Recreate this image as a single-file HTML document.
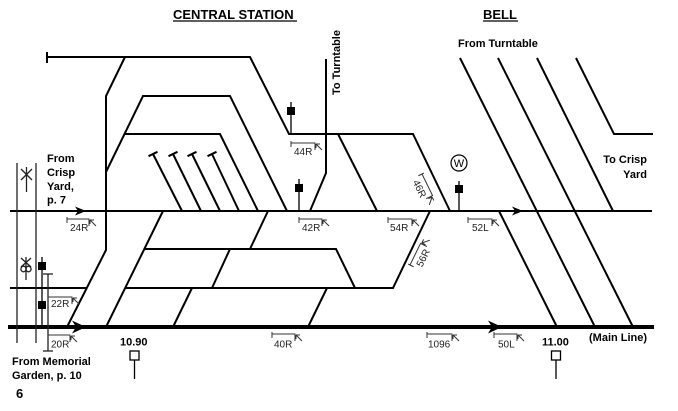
<!DOCTYPE html>
<html>
<head>
<meta charset="utf-8">
<style>
  html, body { margin:0; padding:0; background:#fff; }
  svg { display:block; }
  text { font-family: "Liberation Sans", Arial, sans-serif; fill:#000; }
  .b { font-weight:bold; font-size:11px; }
  .s { font-size:10px; fill:#222; }
</style>
</head>
<body>
<svg width="678" height="411" viewBox="0 0 678 411" xmlns="http://www.w3.org/2000/svg">
  <rect width="678" height="411" fill="#fff"/>

  <!-- Titles -->
  <text x="173" y="19" font-size="13" font-weight="bold">CENTRAL STATION</text>
  <line x1="173" y1="21" x2="297" y2="21" stroke="#000" stroke-width="1.2"/>
  <text x="483" y="19" font-size="13" font-weight="bold">BELL</text>
  <line x1="483" y1="21" x2="518" y2="21" stroke="#000" stroke-width="1.2"/>

  <text class="b" x="458" y="47">From Turntable</text>
  <text class="b" transform="translate(340,95) rotate(-90)">To Turntable</text>
  <text class="b" x="647" y="163" text-anchor="end">To Crisp</text>
  <text class="b" x="647" y="178" text-anchor="end">Yard</text>

  <text class="b" x="47" y="162">From</text>
  <text class="b" x="47" y="176">Crisp</text>
  <text class="b" x="47" y="190">Yard,</text>
  <text class="b" x="47" y="203.5">p. 7</text>

  <text class="b" x="12" y="365">From Memorial</text>
  <text class="b" x="12" y="379">Garden, p. 10</text>
  <text x="16" y="398" font-size="13" font-weight="bold">6</text>

  <text class="b" x="120" y="345.5">10.90</text>
  <text class="b" x="542" y="345.5">11.00</text>
  <text class="b" x="589" y="341">(Main Line)</text>

  <!-- Tracks -->
  <g fill="none" stroke="#000" stroke-width="2" stroke-linejoin="miter">
    <!-- top line -->
    <path d="M47,57 H250 L289,134 H413 L450,211"/>
    <line x1="47" y1="52" x2="47" y2="63"/>
    <path d="M125,57 L106,96 V250 L67,327"/>
    <path d="M106,172 L143,96 H230 L287,211"/>
    <path d="M125,134 H220 L258,211"/>
    <path d="M338,134 L377,211"/>
    <path d="M326,59 V173 L310,211"/>

    <!-- stubs -->
    <path d="M153,154 L182,211"/>
    <path d="M173,154 L201,211"/>
    <path d="M192,154 L220,211"/>
    <path d="M212,154 L239,211"/>
    <path d="M148.5,156.2 L157.5,151.8"/>
    <path d="M168.5,156.2 L177.5,151.8"/>
    <path d="M187.5,156.2 L196.5,151.8"/>
    <path d="M207.5,156.2 L216.5,151.8"/>

    <!-- upper track -->
    <line x1="10" y1="211" x2="652" y2="211"/>
    <!-- y=288 -->
    <line x1="10" y1="288" x2="86" y2="288"/>
    <path d="M125,288 H393 L430,211"/>
    <!-- y=249 -->
    <path d="M144,249 H336 L355,288"/>
    <!-- diagonals -->
    <line x1="106" y1="327" x2="163" y2="211"/>
    <line x1="268" y1="211" x2="250" y2="249"/>
    <line x1="230" y1="249" x2="212" y2="288"/>
    <line x1="192" y1="288" x2="173" y2="327"/>
    <line x1="327" y1="288" x2="308" y2="327"/>

    <!-- right side -->
    <line x1="460" y1="58" x2="595" y2="327"/>
    <line x1="498" y1="58" x2="633" y2="327"/>
    <line x1="537" y1="58" x2="613" y2="211"/>
    <path d="M576,58 L614,134 H653"/>
    <line x1="499" y1="211" x2="557" y2="327"/>
  </g>
  <!-- main line -->
  <line x1="8" y1="327" x2="654" y2="327" stroke="#000" stroke-width="4"/>

  <!-- arrowheads -->
  <polygon points="86,211 75,206.5 78,211 75,215.5" fill="#000"/>
  <polygon points="523,211 512,206.5 515,211 512,215.5" fill="#000"/>
  <polygon points="86,327 72,320.5 76,327 72,333.5" fill="#000"/>
  <polygon points="502,327 488,320.5 492,327 488,333.5" fill="#000"/>

  <!-- signals -->
  <g stroke="#000" stroke-width="1.3">
    <line x1="291" y1="102" x2="291" y2="134"/>
    <line x1="299" y1="179" x2="299" y2="211"/>
    <line x1="459" y1="181" x2="459" y2="211"/>
    <line x1="42" y1="257" x2="42" y2="327"/>
  </g>
  <rect x="287" y="107" width="8" height="8" fill="#000"/>
  <rect x="295" y="184" width="8" height="8" fill="#000"/>
  <rect x="455" y="185" width="8" height="8" fill="#000"/>
  <rect x="38" y="262" width="8" height="8" fill="#000"/>
  <rect x="38" y="301" width="8" height="8" fill="#000"/>

  <circle cx="459" cy="163" r="8" fill="none" stroke="#000" stroke-width="1.2"/>
  <text x="459" y="167" font-size="11" text-anchor="middle">W</text>

  <!-- milepost markers -->
  <rect x="130" y="351" width="9" height="9" fill="#fff" stroke="#000" stroke-width="1.3"/>
  <line x1="134.5" y1="360" x2="134.5" y2="379" stroke="#000" stroke-width="1.3"/>
  <rect x="551.5" y="351" width="9" height="9" fill="#fff" stroke="#000" stroke-width="1.3"/>
  <line x1="556" y1="360" x2="556" y2="379" stroke="#000" stroke-width="1.3"/>

  <!-- left verticals -->
  <g stroke="#222" stroke-width="1.3" fill="none">
    <line x1="17" y1="163" x2="17" y2="343"/>
    <line x1="36" y1="163" x2="36" y2="343"/>
    <line x1="48" y1="274" x2="48" y2="351"/>
    <line x1="43" y1="274" x2="53" y2="274"/>
    <line x1="43" y1="351" x2="53" y2="351"/>
    <!-- symbol 1 -->
    <line x1="26.5" y1="167" x2="26.5" y2="192"/>
    <line x1="21" y1="169" x2="32" y2="180"/>
    <line x1="32" y1="169" x2="21" y2="180"/>
    <!-- symbol 2 -->
    <line x1="26" y1="257" x2="26" y2="280"/>
    <line x1="21" y1="258" x2="31" y2="267"/>
    <line x1="31" y1="258" x2="21" y2="267"/>
    <ellipse cx="23.5" cy="269" rx="2.6" ry="2.8"/>
    <ellipse cx="28.5" cy="269" rx="2.6" ry="2.8"/>
  </g>

  <!-- turnout labels -->
  <g stroke="#333" stroke-width="1" fill="none">
    <!-- 24R -->
    <path d="M67,217 V223 M67,219 H89 V226 M90,220 L96,226 M90,220 H94 M90,220 V224"/>
    <!-- 44R -->
    <path d="M291,141 V147 M291,143 H315 V150 M316,144 L322,150 M316,144 H320 M316,144 V148"/>
    <!-- 42R -->
    <path d="M299,217 V223 M299,219 H322 V226 M323,220 L329,226 M323,220 H327 M323,220 V224"/>
    <!-- 54R -->
    <path d="M388,217 V223 M388,219 H412 V226 M413,220 L419,226 M413,220 H417 M413,220 V224"/>
    <!-- 52L -->
    <path d="M468,217 V223 M468,219 H492 V226 M493,220 L499,226 M493,220 H497 M493,220 V224"/>
    <!-- 22R -->
    <path d="M48,297 H72 V304 M73,298 L79,304 M73,298 H77 M73,298 V302"/>
    <!-- 20R -->
    <path d="M48,335 H70 V342 M71,336 L77,342 M71,336 H75 M71,336 V340"/>
    <!-- 40R -->
    <path d="M272,332 V338 M272,334 H295 V341 M296,335 L302,341 M296,335 H300 M296,335 V339"/>
    <!-- 1096 -->
    <path d="M427,332 V338 M427,334 H452 V341 M453,335 L459,341 M453,335 H457 M453,335 V339"/>
    <!-- 50L -->
    <path d="M494,332 V338 M494,334 H517 V341 M518,335 L524,341 M518,335 H522 M518,335 V339"/>
    <!-- 46R rotated -->
    <g transform="translate(422,174) rotate(64)">
      <path d="M0,-2 V4 M0,0 H24 V7 M25,1 L31,7 M25,1 H29 M25,1 V5"/>
    </g>
    <!-- 56R rotated -->
    <g transform="translate(410,265) rotate(-64)">
      <path d="M0,-2 V4 M0,0 H24 V7 M25,1 L31,7 M25,1 H29 M25,1 V5"/>
    </g>
  </g>
  <text class="s" x="70" y="231">24R</text>
  <text class="s" x="294" y="155">44R</text>
  <text class="s" x="302" y="231">42R</text>
  <text class="s" x="390" y="231">54R</text>
  <text class="s" x="472" y="231">52L</text>
  <text class="s" x="51" y="307">22R</text>
  <text class="s" x="51" y="347.5">20R</text>
  <text class="s" x="274" y="347.5">40R</text>
  <text class="s" x="428" y="347.5">1096</text>
  <text class="s" x="498" y="347.5">50L</text>
  <text class="s" transform="translate(422,174) rotate(64) translate(3,12)">46R</text>
  <text class="s" transform="translate(410,265) rotate(-64) translate(3,12)">56R</text>
</svg>
</body>
</html>
